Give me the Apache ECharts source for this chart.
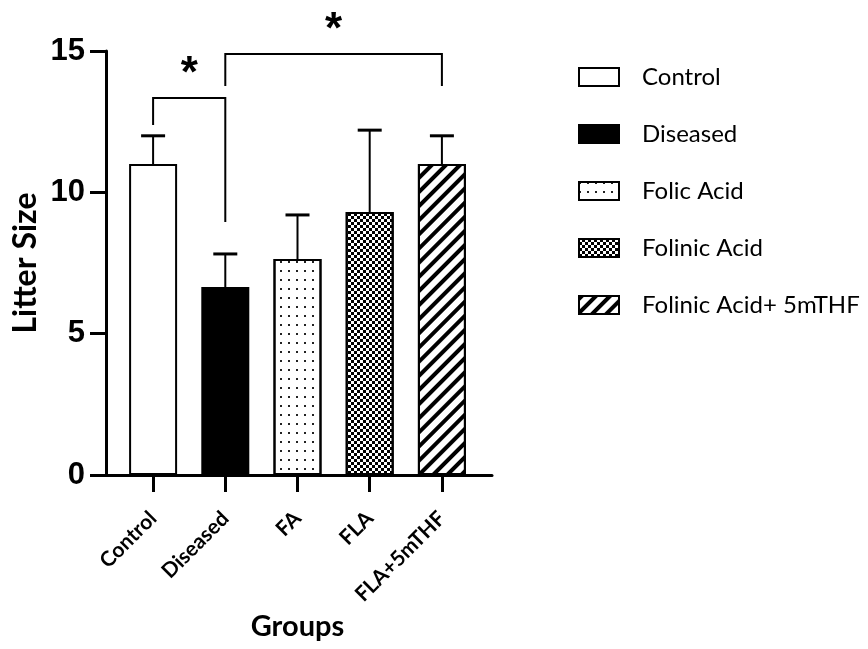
<!DOCTYPE html>
<html>
<head>
<meta charset="utf-8">
<script src="https://cdn.jsdelivr.net/npm/echarts@6/dist/echarts.min.js"></script>
<style>
html,body{margin:0;padding:0;background:#fff;}
#c{width:868px;height:649px;}
</style>
</head>
<body>
<div id="c"></div>
<script>
// ---- data ----
const categories = ['Control', 'Diseased', 'FA', 'FLA', 'FLA+5mTHF'];
const seriesNames = ['Control', 'Diseased', 'Folic Acid', 'Folinic Acid', 'Folinic Acid+ 5mTHF'];
const means = [11, 6.65, 7.64, 9.3, 11];
const sds = [1, 1.17, 1.56, 2.9, 1];
const yTicks = [0, 5, 10, 15];
// significance brackets: from category, to category, top value, left leg end, right leg end
const bracketFrom = [0, 1];
const bracketTo = [1, 4];
const bracketTop = [13.34, 14.89];
const bracketLeftEnd = [12.38, 13.76];
const bracketRightEnd = [8.95, 13.76];
const bracketLabel = ['*', '*'];

// ---- styles ----
const fontText = 'Lato, "Open Sans", sans-serif';
const fontNum = '"Liberation Sans", Arial, sans-serif';
const itemStyles = [
  { color: '#ffffff', borderColor: '#000', borderWidth: 2 },
  { color: '#000000', borderColor: '#000', borderWidth: 2 },
  { color: '#ffffff', borderColor: '#000', borderWidth: 2,
    decal: { symbol: 'rect', symbolSize: 1, color: '#222', dashArrayX: [2, 6], dashArrayY: [2, 6.5] } },
  { color: '#ffffff', borderColor: '#000', borderWidth: 2,
    decal: { symbol: 'rect', symbolSize: 1, color: '#000', dashArrayX: [[3, 3], [0, 3, 3, 0]], dashArrayY: [3, 0] } },
  { color: '#ffffff', borderColor: '#000', borderWidth: 2,
    decal: { symbol: 'rect', symbolSize: 1, color: '#000', dashArrayX: [1, 0], dashArrayY: [4, 6], rotation: -Math.PI / 4 } }
];

const barSeries = seriesNames.map((name, i) => ({
  name: name,
  type: 'bar',
  xAxisIndex: 0, yAxisIndex: 0,
  stack: 'g',
  barWidth: 48,
  itemStyle: itemStyles[i],
  emphasis: { disabled: true },
  data: categories.map((c, j) => (j === i ? means[j] : '-'))
}));

const errorData = categories.map((c, i) => [i, means[i], sds[i]]);
const bracketData = bracketFrom.map((f, i) => [f, bracketTo[i], bracketTop[i], bracketLeftEnd[i], bracketRightEnd[i]]);

const chart = echarts.init(document.getElementById('c'));
chart.setOption({
  animation: false,
  backgroundColor: '#fff',
  grid: [
    { left: 117, top: 51, width: 361, height: 424 },
    { left: 106, top: 51, width: 386, height: 424 }
  ],
  legend: {
    orient: 'vertical',
    left: 573, top: 60,
    itemWidth: 40, itemHeight: 18, itemGap: 33,
    icon: 'rect',
    selectedMode: false,
    data: seriesNames,
    textStyle: { fontFamily: fontText, fontSize: 24, color: '#000', padding: [0, 0, 0, 18] }
  },
  xAxis: [
    {
      type: 'category', gridIndex: 0, data: categories,
      axisLine: { show: false },
      axisTick: { show: true, alignWithLabel: true, length: 17, lineStyle: { color: '#000', width: 3 } },
      axisLabel: { rotate: 45, margin: 40, color: '#000', fontFamily: fontText, fontWeight: 'bold', fontSize: 21 },
      name: 'Groups', nameLocation: 'middle', nameGap: 135,
      nameTextStyle: { fontFamily: fontText, fontWeight: 'bold', fontSize: 29, color: '#000' }
    },
    {
      type: 'value', gridIndex: 1, min: 0, max: 1,
      axisLine: { show: true, lineStyle: { color: '#000', width: 3 } },
      axisTick: { show: false }, axisLabel: { show: false }, splitLine: { show: false }
    }
  ],
  yAxis: [
    {
      type: 'value', gridIndex: 0, min: 0, max: 15, interval: 5,
      show: false, splitLine: { show: false }
    },
    {
      type: 'value', gridIndex: 1, min: yTicks[0], max: yTicks[yTicks.length - 1], interval: 5,
      axisLine: { show: true, lineStyle: { color: '#000', width: 3 } },
      axisTick: { show: true, length: 16, lineStyle: { color: '#000', width: 3 } },
      axisLabel: { margin: 21, color: '#000', fontFamily: fontNum, fontWeight: 'bold', fontSize: 31 },
      splitLine: { show: false },
      name: 'Litter Size', nameLocation: 'middle', nameGap: 64,
      nameTextStyle: { fontFamily: fontText, fontWeight: 'bold', fontSize: 32, color: '#000' }
    }
  ],
  series: barSeries.concat([
    {
      type: 'custom',
      xAxisIndex: 0, yAxisIndex: 0,
      z: 5,
      silent: true,
      data: errorData,
      renderItem: function (params, api) {
        const x = api.value(0), m = api.value(1), s = api.value(2);
        const base = api.coord([x, m]);
        const top = api.coord([x, m + s]);
        return {
          type: 'group',
          children: [
            { type: 'line', shape: { x1: base[0], y1: base[1], x2: top[0], y2: top[1] },
              style: { stroke: '#000', lineWidth: 2 } },
            { type: 'line', shape: { x1: top[0] - 12, y1: top[1], x2: top[0] + 12, y2: top[1] },
              style: { stroke: '#000', lineWidth: 3 } }
          ]
        };
      }
    },
    {
      type: 'custom',
      xAxisIndex: 0, yAxisIndex: 0,
      z: 5,
      silent: true,
      clip: false,
      data: bracketData,
      renderItem: function (params, api) {
        const a = api.value(0), b = api.value(1), t = api.value(2), l = api.value(3), r = api.value(4);
        const p1 = api.coord([a, l]);
        const p2 = api.coord([a, t]);
        const p3 = api.coord([b, t]);
        const p4 = api.coord([b, r]);
        return {
          type: 'group',
          children: [
            { type: 'polyline', shape: { points: [p1, p2, p3, p4] },
              style: { stroke: '#000', lineWidth: 2, fill: null } },
            { type: 'text', x: (p2[0] + p3[0]) / 2, y: p2[1] - 23,
              style: { text: bracketLabel[params.dataIndex], fill: '#000', fontSize: 44, fontWeight: 'bold',
                fontFamily: fontNum, align: 'center', verticalAlign: 'middle' } }
          ]
        };
      }
    }
  ])
});
</script>
</body>
</html>
